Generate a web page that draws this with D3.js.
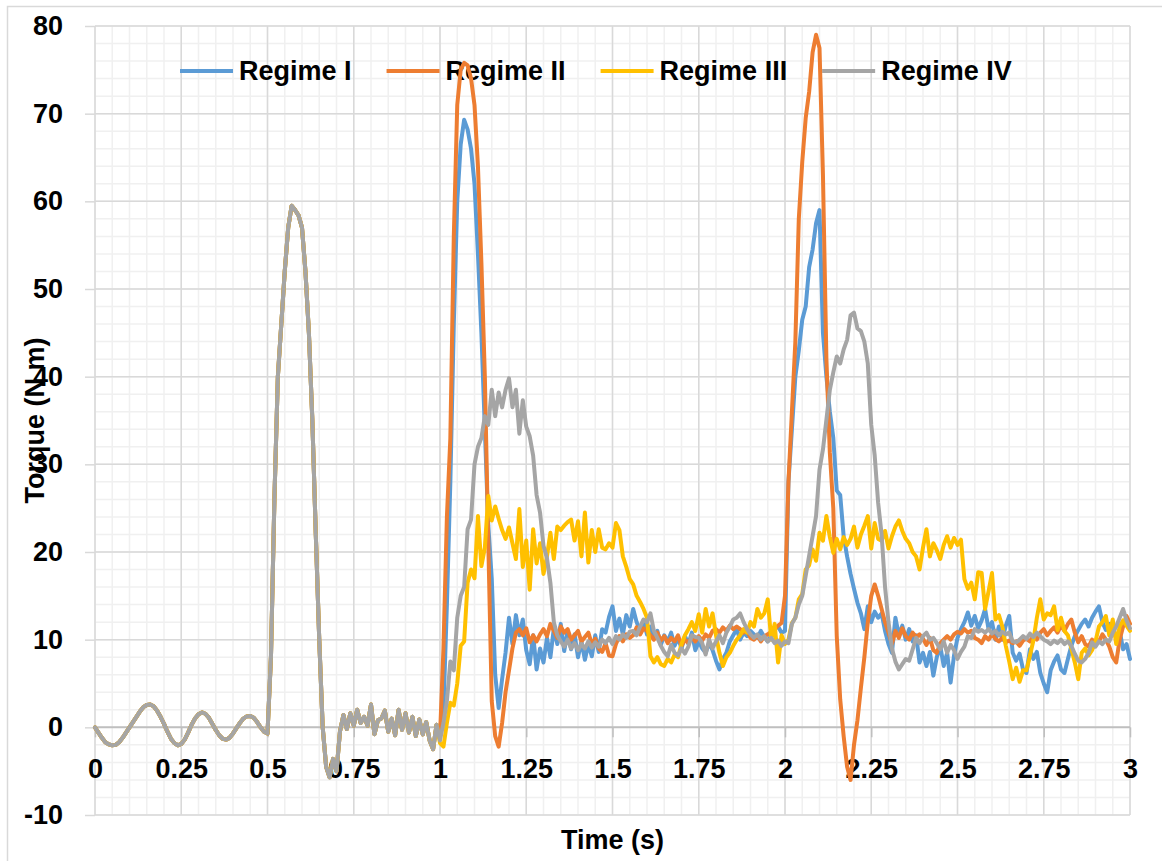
<!DOCTYPE html>
<html><head><meta charset="utf-8">
<script src="https://cdn.jsdelivr.net/npm/d3@7"></script>
<style>
html,body{margin:0;padding:0;background:#fff;}
svg{display:block;font-family:"Liberation Sans",Arial,sans-serif;}
</style></head><body>
<svg id="chart" width="1162" height="861"></svg>
<script>
// ---------- DATA ----------
const seriesNames = ["Regime I", "Regime II", "Regime III", "Regime IV"];
const seriesColors = ["#5B9BD5", "#ED7D31", "#FFC000", "#A5A5A5"];
const sampleStep = 0.01; // s between samples

// 0.00 – 0.99 s : identical for all regimes
const commonStart = [
  0, -0.6, -1.2, -1.7, -1.95, -2.05, -2.0, -1.7, -1.2, -0.6,
  0, 0.6, 1.2, 1.8, 2.3, 2.55, 2.6, 2.4, 1.9, 1.2,
  0.4, -0.5, -1.3, -1.8, -2.05, -1.9, -1.4, -0.6, 0.3, 1.0,
  1.5, 1.7, 1.55, 1.1, 0.4, -0.3, -0.9, -1.3, -1.4, -1.2,
  -0.7, -0.1, 0.5, 1.0, 1.25, 1.3, 1.1, 0.6, 0, -0.5,
  -0.7, 8, 26, 40, 46, 52, 57, 59.5, 59, 58.4,
  57, 52, 45, 35, 22, 10, 0, -4.5, -5.7, -3.6,
  -5.0, -0.5, 1.4, -0.2, 1.6, 0.2, 2.0, 0.5, 1.2, 0.2,
  2.6, -0.8, 0.8, 1.0, 1.9, -0.5, 1.0, -0.9, 2.0, -0.3,
  1.6, -0.6, 1.2, -1.0, 0.9, -0.8, 0.6, -1.5, -2.5, 0.3
];

// 1.00 – 3.00 s
const regimeI = [
  -1.0, 2, 14, 28, 46, 60, 66.5, 69.3, 68.2, 66,
  62, 54, 45, 34, 23, 17, 6, 2.2, 5.5, 8.5,
  12.5, 9.5, 12.8, 10.5, 12.3, 8.8, 7.2, 10.5, 6.6, 9.0,
  7.4, 10.2, 8.0, 11.3, 9.5, 11.8, 8.7, 11.0, 8.9, 10.6,
  8.0, 9.8, 7.7, 9.5, 8.1, 10.5, 8.6, 11.2, 10.8, 12.6,
  13.8, 11.0, 12.4, 10.6, 12.8, 11.5, 13.5, 12.0, 11.0, 12.2,
  10.6, 11.5, 10.2, 11.0, 9.4, 10.5, 9.8, 10.8, 9.3, 10.2,
  9.0, 10.4, 9.5, 10.8, 8.8, 9.8, 9.0, 8.5, 9.6, 8.8,
  7.6, 6.6, 7.8, 8.5, 9.8, 10.5, 11.2, 10.0, 10.8, 10.4,
  11.0, 10.6, 10.2, 11.0, 10.3, 9.8, 10.5, 11.2, 11.5, 10.8,
  11.0, 28, 34, 40, 43, 46.5, 48, 52.5, 54.5, 57.5,
  59, 45, 40, 36, 33, 27, 26.5, 21.8, 19.5, 17.5,
  15.8, 14.2, 13.0, 11.2, 13.8, 12.0, 13.2, 12.5, 13.0, 11.0,
  9.5, 8.5, 12.5, 10.5, 11.6, 10.0, 11.2, 9.8, 10.5, 7.4,
  8.5, 7.0, 8.6, 5.9, 8.0, 9.3, 7.0, 8.5, 5.1, 8.2,
  10.2, 11.2, 12.0, 13.1, 11.6, 12.7, 11.3, 12.2, 13.5, 11.2,
  12.0, 10.0, 11.5, 10.0, 11.6, 12.7, 8.5, 7.6, 8.4, 6.6,
  6.2, 8.9, 7.8, 8.6, 6.2, 5.0, 4.0, 6.5, 7.5, 8.2,
  6.6, 6.2, 7.8, 9.3, 10.4, 11.1, 11.8, 12.3, 11.5, 12.5,
  13.2, 13.8, 12.0, 11.1, 11.8, 11.0, 10.3, 11.0, 8.9, 9.5,
  7.8
];

const regimeII = [
  -1.0, 9, 24, 33, 56, 71, 75, 75.8, 75.5, 74,
  71, 64, 53, 40, 21, 3, -1, -2.2, 0.5, 4,
  6.5, 9, 10.8, 11.2, 10.5, 11.3, 9.7, 10.5, 9.8, 10.6,
  11.2, 10.4, 11.8, 11.0, 10.2, 11.5, 10.8, 11.2, 10.0, 10.5,
  11.0, 9.8, 10.3, 10.8, 9.5, 10.1, 9.0, 8.6, 9.6, 8.2,
  8.1, 9.5, 10.4, 9.8, 10.6, 10.2, 10.5, 11.4, 10.6, 11.3,
  11.0, 10.5, 10.0, 10.8, 9.9, 10.4, 9.6, 10.2, 9.8, 10.5,
  9.3, 10.0, 9.6, 10.3, 9.8, 10.4, 9.9, 10.6, 10.2, 11.0,
  11.2, 10.8, 11.4, 11.0, 11.6, 11.2, 11.5, 11.2, 10.8, 11.0,
  10.2, 10.0, 10.5, 9.8, 10.4, 10.6, 10.9, 11.2, 11.6, 11.9,
  15, 28, 36, 44, 58, 64.5, 69.5, 72.5, 77, 79,
  77.5, 63, 42, 31.3, 25, 10.4, 3.2, -1, -4.5, -6,
  -2, 0.8, 4.5, 8, 12, 15, 16.3, 15, 13.5, 12,
  10.8, 9.5, 11.0, 10.2, 11.3, 10.4, 10.0, 10.8, 10.3, 10.6,
  10.1, 9.4, 10.2, 8.8, 8.5, 9.6, 10.0, 10.4, 10.0, 10.6,
  10.9, 10.7, 11.2, 10.8, 11.0, 10.2, 10.0, 9.6, 10.4, 10.0,
  10.6, 10.1, 9.8, 10.2, 9.7, 9.9, 9.6, 9.8, 9.3, 9.9,
  10.1, 9.8, 10.4, 10.0, 10.8, 11.2, 10.5, 11.0, 11.4, 10.8,
  11.6, 11.0, 11.8, 12.3, 10.8, 9.7, 10.4, 9.5, 9.2, 10.0,
  9.4, 9.8, 10.6, 10.0, 9.2, 8.0, 7.4, 10.0, 11.5, 12.7,
  11.8
];

const regimeIII = [
  -1.8, -2.2, 0.5, 2.8, 2.5, 5.0, 9.3, 9.8, 16.5, 18.0,
  17.0, 24.1, 18.4, 20.5, 26.4, 23.6, 25.2, 23.8, 22.5, 21.5,
  22.8, 21.0, 19.2, 24.9, 18.3, 21.3, 15.7, 22.6, 18.7, 21.0,
  17.5, 19.5, 22.2, 19.2, 22.9, 22.5, 23.0, 23.4, 23.7, 21.3,
  23.5, 19.5, 24.5, 18.8, 22.5, 20.0, 22.6, 20.5, 20.3, 21.0,
  20.5, 23.3, 22.5, 19.5, 18.3, 16.9, 16.3, 15.0, 14.3, 13.5,
  12.5, 8.1, 7.4, 8.0, 7.2, 7.0, 7.8, 7.4, 8.3, 8.0,
  9.5, 10.5, 11.2, 12.0, 11.0, 12.9, 10.8, 13.5, 11.5, 13.0,
  10.5, 8.5, 7.0, 8.0, 8.5, 9.3, 10.0, 10.5, 11.2, 10.8,
  12.0, 11.5, 13.5, 12.5, 13.0, 14.6, 10.0, 11.8, 7.4, 10.5,
  9.5, 10.0, 11.9, 12.5, 14.6, 15.2, 18.0, 18.5, 20.3, 19.0,
  22.2, 21.3, 24.1, 21.7, 19.9, 21.5, 20.3, 21.7, 20.8, 21.5,
  22.9, 20.5, 22.0, 23.0, 24.1, 20.4, 23.3, 21.5, 21.3, 22.4,
  20.4, 21.8, 22.9, 23.6, 22.4, 21.5, 21.0, 20.0, 19.5, 18.0,
  20.5, 22.6, 19.5, 21.0, 20.2, 19.2, 20.8, 21.8, 20.5, 21.6,
  20.8, 21.4, 16.9, 15.8, 16.5, 14.6, 17.7, 17.6, 13.5, 15.5,
  17.6, 12.3, 12.8, 11.5, 9.3, 7.5, 5.5, 6.8, 5.2, 6.5,
  6.5, 8.2, 9.9, 12.5, 14.6, 12.3, 13.0, 12.8, 13.8, 11.1,
  12.5, 11.0, 10.5, 9.0, 7.4, 5.5, 8.5, 9.0, 8.2, 8.8,
  9.8, 11.5, 12.0, 12.7, 10.5, 12.3, 9.5, 11.5, 12.2, 11.6,
  11.0
];

const regimeIV = [
  -1.5, 0.5, 3, 7.5, 6.5, 12.5, 15, 16, 22.6, 23.7,
  30, 32, 33, 35.5, 34.5, 38.5, 35.5, 38.2, 36.5, 38.5,
  39.8, 36.5, 38.5, 33.5, 37.3, 34.3, 33.2, 31.0, 26.5, 24.5,
  20.7, 19.3, 16.5, 12.0, 10.5, 9.8, 9.2, 10.0, 9.0, 9.6,
  8.8, 9.5, 9.0, 9.8, 9.1, 9.7, 9.2, 10.0, 9.6, 10.2,
  9.5, 10.4, 10.0, 10.6, 10.2, 10.9, 11.0, 10.5, 11.5, 12.3,
  12.0, 13.0, 11.0, 10.2, 9.3, 8.6, 8.1, 9.4, 8.5, 8.2,
  9.0, 8.4, 9.2, 10.5, 10.3, 10.2, 9.6, 8.3, 10.0, 9.0,
  9.8, 10.5, 9.6, 10.8, 11.5, 12.3, 12.5, 13.0, 12.0, 11.2,
  10.6, 10.2, 10.6, 10.0, 10.4, 9.8, 10.2, 9.6, 9.9, 9.3,
  9.8, 9.6, 11.8, 12.5, 14.0, 15.0, 17.3, 19.6, 21.8, 24.1,
  29.4, 31.7, 35.1, 38.5, 40.5, 42.3, 41.5, 43.1, 44.2, 47.0,
  47.3, 45.5, 45.2, 44.0, 41.5, 34.5, 31.0, 25.6, 22.0, 16.0,
  12.0, 9.0, 7.5, 6.6, 7.2, 7.8, 7.6, 8.9, 10.2, 9.6,
  10.4, 10.8, 10.0, 10.2, 9.6, 8.9, 9.8, 8.5, 9.4, 8.8,
  7.8, 8.6, 9.2, 10.4, 10.2, 11.2, 10.9, 11.1, 10.8, 11.2,
  10.7, 11.0, 10.5, 10.9, 10.6, 10.8, 9.8, 9.7, 10.0, 10.4,
  10.1, 10.7, 10.3, 10.8, 10.4, 10.0, 9.8, 9.5, 9.9, 9.6,
  10.0, 9.5, 9.8, 9.3, 8.4, 7.6, 7.4, 7.8, 8.5, 9.7,
  9.2, 9.8, 9.5, 10.0, 9.8, 10.8, 11.5, 12.5, 13.5, 12.2,
  11.3
];

const xTickValues = [0, 0.25, 0.5, 0.75, 1, 1.25, 1.5, 1.75, 2, 2.25, 2.5, 2.75, 3];
const xTickLabels = ["0", "0.25", "0.5", "0.75", "1", "1.25", "1.5", "1.75", "2", "2.25", "2.5", "2.75", "3"];
const yTickValues = [-10, 0, 10, 20, 30, 40, 50, 60, 70, 80];
const yTickLabels = ["-10", "0", "10", "20", "30", "40", "50", "60", "70", "80"];
const xTitle = "Time (s)";
const yTitle = "Torque (N m)";

// ---------- CHART ----------
const series = [regimeI, regimeII, regimeIII, regimeIV].map(a => commonStart.concat(a));

const svg = d3.select("#chart");
const plot = {left: 95, right: 1130, top: 26, bottom: 815};
const x = d3.scaleLinear().domain([0, 3]).range([plot.left, plot.right]);
const y = d3.scaleLinear().domain([-10, 80]).range([plot.bottom, plot.top]);
const fontSize = 27;
const fontFam = "'Liberation Sans', Arial, sans-serif";

// outer chart-area border
svg.append("rect").attr("x", 7.5).attr("y", 6.5).attr("width", 1170).attr("height", 870)
  .attr("fill", "none").attr("stroke", "#d9d9d9").attr("stroke-width", 1.5);

// minor grid
const g = svg.append("g");
g.selectAll(".mx").data(x.ticks(60)).join("line")
  .attr("x1", d => x(d)).attr("x2", d => x(d)).attr("y1", y(-10)).attr("y2", y(80))
  .attr("stroke", "#f0f0f0").attr("stroke-width", 1.5);
g.selectAll(".my").data(y.ticks(45)).join("line")
  .attr("y1", d => y(d)).attr("y2", d => y(d)).attr("x1", x(0)).attr("x2", x(3))
  .attr("stroke", "#f0f0f0").attr("stroke-width", 1.5);
// major grid
g.selectAll(".Mx").data(xTickValues).join("line")
  .attr("x1", d => x(d)).attr("x2", d => x(d)).attr("y1", y(-10)).attr("y2", y(80))
  .attr("stroke", "#d9d9d9").attr("stroke-width", 1.5);
g.selectAll(".My").data(yTickValues.filter(v => v !== 0)).join("line")
  .attr("y1", d => y(d)).attr("y2", d => y(d)).attr("x1", x(0)).attr("x2", x(3))
  .attr("stroke", "#d9d9d9").attr("stroke-width", 1.5);

// y axis
const yAxis = svg.append("g").attr("transform", `translate(${x(0)},0)`)
  .call(d3.axisLeft(y).tickValues(yTickValues).tickFormat((d, i) => yTickLabels[i]).tickSize(10).tickPadding(22));
yAxis.select(".domain").remove();
yAxis.selectAll(".tick line").attr("stroke", "#d9d9d9").attr("stroke-width", 1.5);
yAxis.selectAll("text").attr("font-size", fontSize).attr("font-weight", "bold")
  .attr("fill", "#000").attr("font-family", fontFam);

// x axis at y = 0
const xAxis = svg.append("g").attr("transform", `translate(0,${y(0)})`)
  .call(d3.axisBottom(x).tickValues(xTickValues).tickFormat((d, i) => xTickLabels[i]).tickSize(10).tickPadding(22));
xAxis.select(".domain").attr("stroke", "#bfbfbf").attr("stroke-width", 2).attr("d", `M${x(0)},0H${x(3)}`);
xAxis.selectAll(".tick line").attr("stroke", "#bfbfbf").attr("stroke-width", 1.5);
xAxis.selectAll("text").attr("font-size", fontSize).attr("font-weight", "bold")
  .attr("fill", "#000").attr("font-family", fontFam);

// axis titles
svg.append("text").attr("x", (plot.left + plot.right) / 2).attr("y", 849)
  .attr("text-anchor", "middle").attr("font-size", fontSize).attr("font-weight", "bold").text(xTitle);
svg.append("text").attr("transform", `translate(44,${(plot.top + plot.bottom) / 2}) rotate(-90)`)
  .attr("text-anchor", "middle").attr("font-size", fontSize).attr("font-weight", "bold").text(yTitle);

// legend
const legend = svg.append("g");
let cx = 180;
seriesNames.forEach((name, i) => {
  legend.append("line").attr("x1", cx).attr("x2", cx + 53).attr("y1", 71).attr("y2", 71)
    .attr("stroke", seriesColors[i]).attr("stroke-width", 4);
  const t = legend.append("text").attr("x", cx + 59).attr("y", 80)
    .attr("font-size", fontSize).attr("font-weight", "bold").text(name);
  cx = cx + 59 + t.node().getComputedTextLength() + 35;
});

// data lines
const line = d3.line().x((d, i) => x(i * sampleStep)).y(d => y(d)).curve(d3.curveLinear);
svg.append("g").selectAll("path").data(series).join("path")
  .attr("d", line).attr("fill", "none")
  .attr("stroke", (d, i) => seriesColors[i]).attr("stroke-width", 4)
  .attr("stroke-linejoin", "round").attr("stroke-linecap", "round");
</script>
</body></html>
